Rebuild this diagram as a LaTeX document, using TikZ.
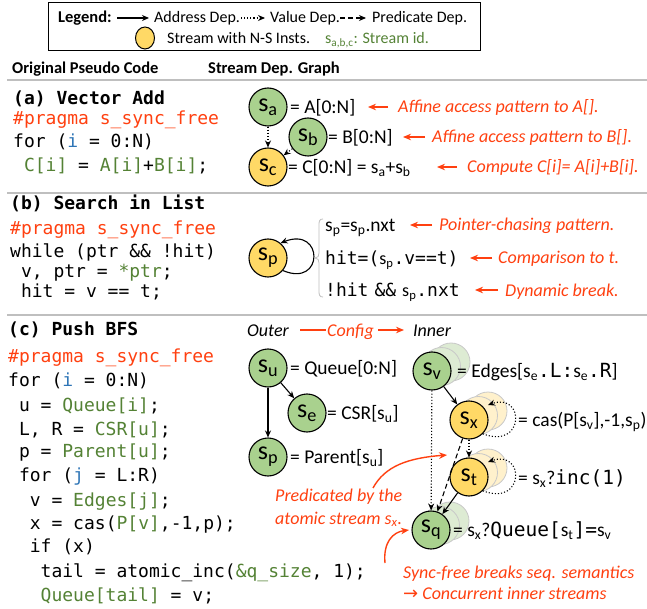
\documentclass[tikz,border=0pt]{standalone}
\usepackage{fontspec}
\setmainfont{Carlito}
\setsansfont{Carlito}
\setmonofont{DejaVu Sans Mono}
\newfontfamily\symfont{DejaVu Sans}
\usetikzlibrary{arrows.meta,calc,shapes.geometric}
\definecolor{cgreen}{HTML}{A9D18E}
\definecolor{cyellow}{HTML}{FFD966}
\definecolor{cred}{HTML}{FF4010}
\definecolor{tgreen}{HTML}{548235}
\definecolor{tblue}{HTML}{2E75B6}
\definecolor{sepgray}{HTML}{BFBFBF}
\definecolor{gshadow}{HTML}{DDEBD3}
\definecolor{yshadow}{HTML}{FFF1CC}
\definecolor{shline}{HTML}{C8C8C8}
\newcommand\clab[1]{s\textsubscript{#1}}
\newcommand\ssb[1]{{\rmfamily s\textsubscript{#1}}}
\begin{document}
\begin{tikzpicture}[x=1pt,y=-1pt,
  code/.style={font=\fontsize{18}{20}\selectfont\ttfamily, inner sep=0pt, anchor=base west},
  lbl/.style={font=\fontsize{19.5}{22}\selectfont, inner sep=0pt, anchor=base west},
  note/.style={font=\fontsize{18}{20}\selectfont\itshape, text=cred, inner sep=0pt, anchor=base west},
  hdr/.style={font=\fontsize{16.5}{20}\selectfont\bfseries, inner sep=0pt, anchor=base west},
  leg/.style={font=\fontsize{16}{20}\selectfont, inner sep=0pt, anchor=base west},
  gst/.style={circle, draw=black, line width=1.1pt, fill=cgreen, minimum size=38pt, inner sep=0pt, font=\fontsize{26}{26}\selectfont},
  yst/.style={gst, fill=cyellow},
  gsh/.style={circle, draw=shline, line width=0.8pt, fill=gshadow, minimum size=38pt, inner sep=0pt},
  ysh/.style={gsh, fill=yshadow},
  addr/.style={-{Stealth[length=7pt,width=6pt]}, line width=1.1pt},
  val/.style={addr, dotted},
  pred/.style={addr, dash pattern=on 5pt off 3pt},
  redar/.style={-{Stealth[length=8pt,width=6.5pt]}, line width=1.4pt, draw=cred},
  redln/.style={line width=1.4pt, draw=cred}
]
\useasboundingbox (0,0) rectangle (647,609);

% ---------- legend ----------
\node[draw=black, line width=1pt, minimum width=432pt, minimum height=48pt, inner sep=0pt] (legend) at (264,27) {};
\node[hdr, font=\fontsize{16.5}{20}\selectfont\bfseries] (legt) at (58,23) {Legend:};
\coordinate (l1a) at (117,18); \coordinate (l1b) at (149,18);
\draw[addr] (l1a) -- (l1b);
\node[leg] (l1t) at (154,23) {Address Dep.};
\coordinate (l2a) at (241,18); \coordinate (l2b) at (265,18);
\draw[val] (l2a) -- (l2b);
\node[leg] (l2t) at (270,23) {Value Dep.};
\coordinate (l3a) at (340,18); \coordinate (l3b) at (366,18);
\draw[pred] (l3a) -- (l3b);
\node[leg] (l3t) at (372,23) {Predicate Dep.};
\node[ellipse, draw=black, fill=cyellow, line width=1pt, minimum width=19pt, minimum height=22pt, inner sep=0pt] (lcirc) at (145,38) {};
\node[leg] (l4t) at (167,44) {Stream with N-S Insts.};
\node[leg, text=tgreen] (l5t) at (325,44) {s\textsubscript{a,b,c}: Stream id.};

% ---------- headers and separators ----------
\node[hdr] (h1) at (12,74) {Original Pseudo Code};
\node[hdr] (h2) at (208,74) {Stream Dep. Graph};
\draw[sepgray, line width=1.5pt] (7,80) -- (647,80);
\draw[sepgray, line width=1.5pt] (7,193) -- (647,193);
\draw[sepgray, line width=1.5pt] (7,315) -- (647,315);

% ---------- (a) code ----------
\node[code] (a0) at (13,104.5) {\bfseries (a) Vector Add};
\node[code, text=cred] (a1) at (13,124.5) {\#pragma s\_sync\_free};
\node[code] (a2) at (13,148) {for (\textcolor{tblue}{i} = 0:N)};
\node[code] (a3) at (23.8,172) {\textcolor{tgreen}{C[i]} = \textcolor{tgreen}{A[i]}+\textcolor{tgreen}{B[i]};};

% ---------- (a) graph ----------
\node[gst] (sa) at (268,107) {\clab{a}};
\node[gst] (sb) at (308,137) {\clab{b}};
\node[yst] (sc) at (268,167) {\clab{c}};
\draw[val] (sa) -- (sc);
\draw[val] (sb) -- (sc);
\node[lbl] (la) at (290,113.5) {= A[0:N]};
\node[lbl] (lb) at (328,143.5) {= B[0:N]};
\node[lbl] (lc) at (288,173.5) {= C[0:N] = s\textsubscript{a}+s\textsubscript{b}};
\coordinate (ra1) at (388,107); \coordinate (ra2) at (368,107);
\draw[redar] (ra1) -- (ra2);
\node[note] (na) at (398,113) {Affine access pattern to A[].};
\coordinate (rb1) at (425,137); \coordinate (rb2) at (403,137);
\draw[redar] (rb1) -- (rb2);
\node[note] (nb) at (432,143) {Affine access pattern to B[].};
\coordinate (rc1) at (457,167); \coordinate (rc2) at (437,167);
\draw[redar] (rc1) -- (rc2);
\node[note] (nc) at (467,173) {Compute C[i]= A[i]+B[i].};

% ---------- (b) code ----------
\node[code] (b0) at (10,210) {\bfseries (b) Search in List};
\node[code, text=cred] (b1) at (10,235) {\#pragma s\_sync\_free};
\node[code] (b2) at (10,257.5) {while (ptr \&\& !hit)};
\node[code] (b3) at (20.8,277.5) {v, ptr = \textcolor{tgreen}{*ptr};};
\node[code] (b4) at (20.8,297.5) {hit = v == t;};

% ---------- (b) graph ----------
\node[yst] (sp) at (268,258) {\clab{p}};
\draw[addr] (sp.-40) .. controls ($(sp)+(56,30)$) and ($(sp)+(56,-32)$) .. (sp.50);
\draw[sepgray, line width=0.8pt] (323,219) .. controls (319.5,219) and (319,221) .. (319,225) -- (319,253) .. controls (319,256) and (318,258) .. (315,258) .. controls (318,258) and (319,260) .. (319,263) -- (319,291) .. controls (319,295) and (319.5,297) .. (323,297);
\node[lbl] (lp1) at (325,231.5) {s\textsubscript{p}=s\textsubscript{p}.nxt};
\node[lbl, font=\fontsize{18}{20}\selectfont\ttfamily] (lp2) at (325,264.5) {hit=(\ssb{p}.v==t)};
\node[lbl, font=\fontsize{18}{20}\selectfont\ttfamily] (lp3) at (325,296.5) {!hit\hspace{6pt}\&\&\hspace{6pt}\ssb{p}.nxt};
\coordinate (rp1) at (432,225); \coordinate (rp2) at (410,225);
\draw[redar] (rp1) -- (rp2);
\node[note] (np1) at (439,231) {Pointer-chasing pattern.};
\coordinate (rq1) at (492,258); \coordinate (rq2) at (470,258);
\draw[redar] (rq1) -- (rq2);
\node[note] (np2) at (498,264) {Comparison to t.};
\coordinate (rr1) at (498,290); \coordinate (rr2) at (475,290);
\draw[redar] (rr1) -- (rr2);
\node[note] (np3) at (505,296) {Dynamic break.};

% ---------- (c) code ----------
\node[code] (c0) at (8,335) {\bfseries (c) Push BFS};
\node[code, text=cred] (c1) at (8,362.5) {\#pragma s\_sync\_free};
\node[code] (c2) at (8,386.5) {for (\textcolor{tblue}{i} = 0:N)};
\node[code] (c3) at (18.8,411) {u = \textcolor{tgreen}{Queue[i]};};
\node[code] (c4) at (18.8,435) {L, R = \textcolor{tgreen}{CSR[u]};};
\node[code] (c5) at (18.8,457.5) {p = \textcolor{tgreen}{Parent[u]};};
\node[code] (c6) at (18.8,481) {for (\textcolor{tblue}{j} = L:R)};
\node[code] (c7) at (29.7,506) {v = \textcolor{tgreen}{Edges[j]};};
\node[code] (c8) at (29.7,529.5) {x = cas(\textcolor{tgreen}{P[v]},-1,p);};
\node[code] (c9) at (29.7,552.5) {if (x)};
\node[code] (c10) at (40.5,577.5) {tail = atomic\_inc(\textcolor{tgreen}{\&q\_size}, 1);};
\node[code] (c11) at (40.5,601) {\textcolor{tgreen}{Queue[tail]} = v;};

% ---------- (c) outer graph ----------
\node[lbl, font=\fontsize{18}{20}\selectfont\itshape] (outer) at (247,336) {Outer};
\coordinate (cf1) at (300,330); \coordinate (cf2) at (326,330);
\draw[redln] (cf1) -- (cf2);
\node[note] (cfg) at (327,336) {Config};
\coordinate (cf3) at (378,330); \coordinate (cf4) at (404,330);
\draw[redar] (cf3) -- (cf4);
\node[lbl, font=\fontsize{18}{20}\selectfont\itshape] (inner) at (413,336) {Inner};

\node[gst] (su) at (268,368) {\clab{u}};
\node[gst] (se) at (307,413) {\clab{e}};
\node[gst] (spp) at (268,457) {\clab{p}};
\draw[addr] (su) -- (se);
\draw[addr] (su) -- (spp);
\node[lbl] (lu) at (290,374.5) {= Queue[0:N]};
\node[lbl] (le) at (327,419.5) {= CSR[s\textsubscript{u}]};
\node[lbl] (lpp) at (290,463.5) {= Parent[s\textsubscript{u}]};

% ---------- (c) inner graph ----------
\node[gsh] (sv2) at (451,362) {};
\node[gsh] (sv1) at (441.5,366.5) {};
\node[gst] (sv) at (432,371) {\clab{v}};
\node[ysh] (sx2) at (488,411) {};
\node[ysh] (sx1) at (478.5,415.5) {};
\node[yst] (sx) at (469,420) {\clab{x}};
\node[ysh] (st2) at (488,468) {};
\node[ysh] (st1) at (478.5,472.5) {};
\node[yst] (st) at (469,477) {\clab{t}};
\node[gsh] (sq2) at (450,521) {};
\node[gsh] (sq1) at (440.5,525.5) {};
\node[gst] (sq) at (431,530) {\clab{q}};

\draw[addr] (sv) -- (sx);
\draw[val] (sv) -- (sq);
\draw[val] (sx) -- (st);
\draw[pred] (sx) -- (sq);
\draw[addr] (st) -- (sq);
\draw[val] (sx.-45) .. controls ($(sx)+(56,30)$) and ($(sx)+(56,-28)$) .. ($(sx)+(19,-15)$);
\draw[val] (st.-45) .. controls ($(st)+(56,30)$) and ($(st)+(56,-28)$) .. ($(st)+(19,-15)$);

\node[lbl] (lv) at (457,377.5) {= Edges[s\textsubscript{e}{\ttfamily .L:}s\textsubscript{e}{\ttfamily .R}]};
\node[lbl] (lx) at (518,426.5) {= cas(P[s\textsubscript{v}],-1,s\textsubscript{p})};
\node[lbl] (lt) at (518,484) {= s\textsubscript{x}?{\ttfamily inc(1)}};
\node[lbl] (lq) at (453,536.5) {= s\textsubscript{x}?{\ttfamily Queue[}s\textsubscript{t}{\ttfamily ]=}s\textsubscript{v}};

% ---------- red annotations ----------
\coordinate (pr0) at (373,488); \coordinate (pr1) at (447,455);
\draw[redar] (pr0) .. controls (385,466) and (408,458) .. (pr1);
\node[note] (npr1) at (275,501) {Predicated by the};
\node[note] (npr2) at (275,524) {atomic stream s\textsubscript{x}.};
\coordinate (sy0) at (385,563); \coordinate (sy1) at (409,530);
\draw[redar] (sy0) .. controls (383,542) and (393,532) .. (sy1);
\node[note] (nsy1) at (403,578) {Sync-free breaks seq. semantics};
\node[note] (nsy2) at (403,599) {{\symfont\upshape →} Concurrent inner streams};
\end{tikzpicture}
\end{document}
